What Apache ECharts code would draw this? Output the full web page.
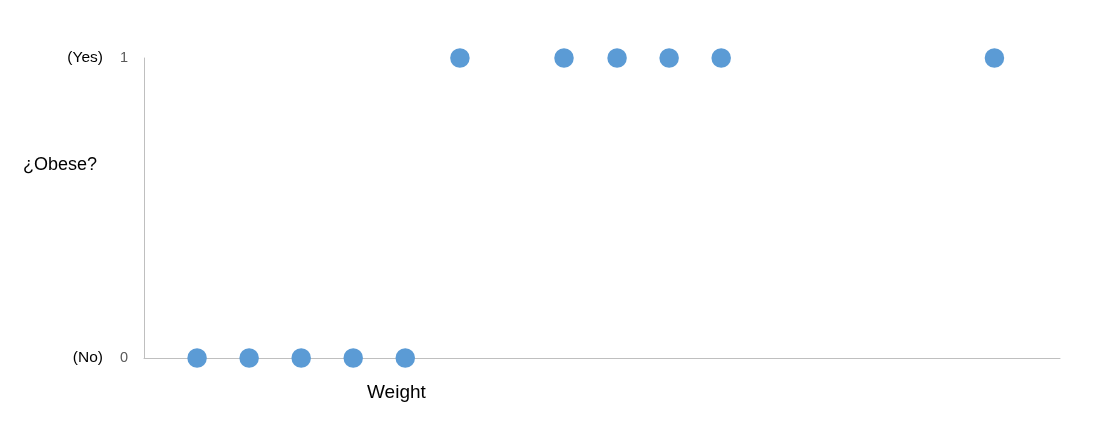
<!DOCTYPE html>
<html><head><meta charset="utf-8">
<script src="https://cdn.jsdelivr.net/npm/echarts@6/dist/echarts.min.js"></script>
<style>html,body{margin:0;padding:0;background:#fff}#c{width:1101px;height:442px}</style>
</head><body><div id="c"></div>
<script>
var weights = [1.02, 2.02, 3.02, 4.02, 5.02, 6.07, 8.07, 9.09, 10.09, 11.09, 16.34];
var obese   = [0, 0, 0, 0, 0, 1, 1, 1, 1, 1, 1];
var yTickLabels = {0: '(No)', 1: '(Yes)'};
var yAxisTitle = '¿Obese?';
var xAxisTitle = 'Weight';

var chart = echarts.init(document.getElementById('c'), null, {renderer: 'canvas'});
var font = '"Liberation Sans", Arial, sans-serif';
chart.setOption({
  animation: false,
  grid: {left: 144, right: 41, top: 58, bottom: 84},
  xAxis: {
    type: 'value', min: 0, max: 17.6,
    axisLine: {show: true, lineStyle: {color: '#BFBFBF', width: 1}},
    axisTick: {show: false}, axisLabel: {show: false}, splitLine: {show: false}
  },
  yAxis: {
    type: 'value', min: 0, max: 1, interval: 1,
    axisLine: {show: true, lineStyle: {color: '#BFBFBF', width: 1}},
    axisTick: {show: false}, splitLine: {show: false},
    axisLabel: {
      margin: 16,
      formatter: function (v) { return '{a|' + yTickLabels[v] + '}{b|' + v + '}'; },
      rich: {
        a: {fontFamily: font, fontSize: 15.5, color: '#000', padding: [0, 17, 0, 0]},
        b: {fontFamily: font, fontSize: 14.5, color: '#595959'}
      }
    }
  },
  graphic: [
    {type: 'text', left: 23, top: 156, style: {text: yAxisTitle, font: '18px ' + font, fill: '#000'}},
    {type: 'text', left: 367, top: 383, style: {text: xAxisTitle, font: '19px ' + font, fill: '#000'}}
  ],
  series: [{
    type: 'scatter', symbolSize: 19.5,
    itemStyle: {color: '#5B9BD5', opacity: 1},
    data: weights.map(function (w, i) { return [w, obese[i]]; })
  }]
});
</script></body></html>
